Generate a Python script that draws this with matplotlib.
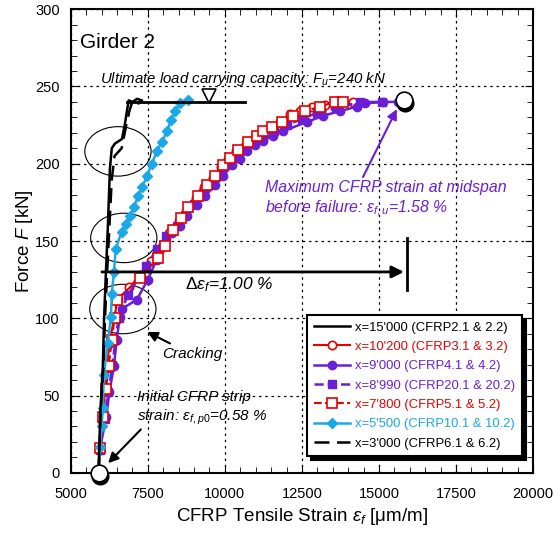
import matplotlib.pyplot as plt
from matplotlib.patches import Ellipse
from matplotlib.ticker import MultipleLocator

plt.rcParams['font.family'] = ['Liberation Sans', 'DejaVu Sans']
plt.rcParams['mathtext.fontset'] = 'custom'
plt.rcParams['mathtext.it'] = 'Liberation Sans:italic'
plt.rcParams['mathtext.rm'] = 'Liberation Sans'

# ---- data (strain in um/m, force in kN) ----
s_15000 = [5900, 5960, 6040, 6080, 6140, 6200, 6270, 6330, 6430, 6660, 6690, 6750, 6820, 6880, 7000, 7150, 7300]
f_15000 = [0, 40, 69, 100, 130, 158, 197, 210, 213, 216, 219, 225, 234, 241, 240, 242, 241]

s_10200 = [5900, 5950, 6020, 6100, 6170, 6260, 6400, 6530, 6900, 7250, 7600, 7900, 8200, 8500, 8780,
           9050, 9330, 9600, 9870, 10100, 10360, 10680, 10980, 11200, 11480, 11800, 12110, 12440, 12830,
           13250, 13700, 14160]
f_10200 = [0, 15, 34, 52, 68, 84, 100, 112, 120, 128, 137, 145, 155, 163, 171,
           178, 185, 191, 198, 203, 208, 213, 217, 220, 223, 227, 232, 234, 237,
           238, 239, 240]

s_9000 = [5900, 5950, 6150, 6250, 6400, 6490, 6590, 6650, 7140, 7500, 7790, 7990, 8300, 8540, 8770,
          9090, 9350, 9680, 9940, 10230, 10490, 10710, 10970, 11230, 11560, 11880, 12660, 13180,
          13730, 14290, 14550, 15130, 15620, 15800]
f_9000 = [0, 16, 36, 52, 69, 86, 101, 106, 112, 125, 138, 148, 155, 160, 166,
          173, 179, 186, 192, 199, 203, 208, 212, 215, 218, 221, 227, 231,
          234, 237, 239, 240, 240, 241]

s_8990 = [5900, 5950, 6100, 6220, 6350, 6450, 6550, 6850, 7450, 7800, 8100, 8450, 8700, 9000,
          9300, 9600, 9880, 10150, 10420, 10700, 10950, 11250, 11600, 12000, 12500, 13000,
          13600, 14380, 15100]
f_8990 = [0, 15, 35, 52, 70, 86, 100, 115, 134, 145, 153, 160, 167, 174,
          181, 188, 194, 200, 205, 210, 214, 217, 221, 225, 229, 233,
          236, 240, 240]

s_7800 = [5900, 5940, 6040, 6140, 6230, 6330, 6420, 6490, 7240, 7820, 8050, 8310, 8570, 8800,
          9120, 9420, 9680, 9930, 10160, 10420, 10750, 11040, 11230, 11530, 11850, 12210,
          12600, 13080, 13570, 13830]
f_7800 = [0, 16, 36, 54, 69, 86, 100, 112, 126, 139, 147, 157, 165, 172,
          179, 186, 192, 199, 204, 209, 214, 218, 221, 224, 227, 231,
          234, 237, 240, 240]

s_5500 = [5900, 5950, 6000, 6040, 6070, 6200, 6300, 6330, 6400, 6460, 6650, 6780, 6920, 7050, 7180,
          7320, 7470, 7630, 7790, 7950, 8120, 8250, 8380, 8540, 8800]
f_5500 = [0, 17, 30, 42, 63, 84, 101, 116, 130, 145, 156, 161, 166, 172, 179,
          185, 192, 200, 208, 214, 221, 228, 234, 239, 241]

s_3000 = [5900, 5970, 6060, 6110, 6180, 6250, 6330, 6420, 6650, 6720, 6800, 6900, 7010, 7200, 7340]
f_3000 = [0, 40, 69, 100, 130, 158, 190, 205, 210, 217, 225, 234, 241, 239, 241]

series_labels = ["x=15'000 (CFRP2.1 & 2.2)", "x=10'200 (CFRP3.1 & 3.2)", "x=9'000 (CFRP4.1 & 4.2)",
                 "x=8'990 (CFRP20.1 & 20.2)", "x=7'800 (CFRP5.1 & 5.2)", "x=5'500 (CFRP10.1 & 10.2)",
                 "x=3'000 (CFRP6.1 & 6.2)"]

red = '#e60000'
purple = '#6a1fd6'
cyan = '#1aa9e6'

fig = plt.figure(figsize=(5.53, 5.41), dpi=100)
ax = fig.add_axes([0.128, 0.126, 0.836, 0.857])

ax.plot(s_15000, f_15000, '-', color='black', lw=1.8, label=series_labels[0], zorder=4)
ax.plot(s_10200, f_10200, '-', color=red, lw=1.5, marker='o', ms=6, mfc='white', mec=red, mew=1.2,
        label=series_labels[1], zorder=3)
ax.plot(s_9000, f_9000, '-', color=purple, lw=1.8, marker='o', ms=6, mfc=purple, mec=purple,
        label=series_labels[2], zorder=3)
ax.plot(s_8990, f_8990, '--', color=purple, lw=1.8, marker='s', ms=6, mfc=purple, mec=purple,
        label=series_labels[3], zorder=3)
ax.plot(s_7800, f_7800, '--', color=red, lw=1.5, marker='s', ms=7, mfc='white', mec=red, mew=1.2,
        label=series_labels[4], zorder=3)
ax.plot(s_5500, f_5500, '-', color=cyan, lw=1.8, marker='D', ms=5, mfc=cyan, mec=cyan,
        label=series_labels[5], zorder=3)
ax.plot(s_3000, f_3000, '--', color='black', lw=1.8, dashes=(6, 3), label=series_labels[6], zorder=4)

# start / failure points (big open circles with a shadow)
for sx, fy in [(s_9000[0], f_9000[0]), (s_9000[-1], f_9000[-1])]:
    ax.plot(sx + 60, fy - 2, 'o', ms=12, color='black', zorder=5, clip_on=False)
    ax.plot(sx, fy, 'o', ms=12, mfc='white', mec='black', mew=1.2, zorder=6, clip_on=False)

# ultimate load line with triangle
ax.plot([6820, 10650], [240, 240], color='black', lw=2, zorder=4)
ax.plot([9500], [244], marker='v', ms=10, mfc='white', mec='black', mew=1.2, zorder=5)
ax.text(5950, 252, 'Ultimate load carrying capacity: $F_u$=240 kN', fontsize=10.8, style='italic')

# ellipses around cracking / stiffness changes
for cx, cy in [(6530, 208), (6720, 152), (6690, 106)]:
    ax.add_patch(Ellipse((cx, cy), 2150, 32, fill=False, lw=0.8, color='black', zorder=2))

# delta strain arrow
ax.annotate('', xy=(5920, 130), xytext=(15900, 130),
            arrowprops=dict(arrowstyle='<|-', color='black', lw=2, mutation_scale=18), zorder=5)
ax.plot([15900, 15900], [118, 152], color='black', lw=2)
ax.text(8700, 119, r'$\Delta\varepsilon_f$=1.00 %', fontsize=12.5, style='italic')

ax.annotate('Cracking', xy=(7400, 92), xytext=(7950, 74), fontsize=11, style='italic',
            arrowprops=dict(arrowstyle='-|>', color='black', lw=1.5, mutation_scale=15))

ax.annotate('Initial CFRP strip\nstrain: $\\varepsilon_{f,p0}$=0.58 %', xy=(6150, 5), xytext=(7150, 34),
            fontsize=11, style='italic', linespacing=1.3,
            arrowprops=dict(arrowstyle='-|>', color='black', lw=1.5, mutation_scale=15,
                            shrinkA=0, relpos=(0.05, 0.0)))

ax.annotate('Maximum CFRP strain at midspan\nbefore failure: $\\varepsilon_{f,u}$=1.58 %',
            xy=(15620, 237), xytext=(11300, 168), fontsize=11.4, style='italic', color=purple,
            linespacing=1.3,
            arrowprops=dict(arrowstyle='-|>', color=purple, lw=1.5, mutation_scale=15,
                            shrinkA=0, relpos=(0.40, 1.0)))

ax.text(5300, 275, 'Girder 2', fontsize=15)

ax.set_xlim(5000, 20000)
ax.set_ylim(0, 300)
ax.xaxis.set_major_locator(MultipleLocator(2500))
ax.xaxis.set_minor_locator(MultipleLocator(500))
ax.yaxis.set_major_locator(MultipleLocator(50))
ax.yaxis.set_minor_locator(MultipleLocator(10))
ax.tick_params(which='both', direction='in', top=True, right=True, labelsize=10.5)
ax.tick_params(which='major', length=6)
ax.tick_params(which='minor', length=4)
ax.tick_params(axis='x', pad=10)
ax.tick_params(axis='y', pad=8)
ax.grid(True, which='major', linestyle=(0, (2, 3)), color='black', lw=0.9)
for sp in ax.spines.values():
    sp.set_linewidth(1.5)

ax.set_xlabel('CFRP Tensile Strain $\\varepsilon_f$ [\u03bcm/m]', fontsize=13.5)
ax.set_ylabel(r'Force $F$ [kN]', fontsize=13.5, labelpad=0)

leg = ax.legend(loc='lower right', bbox_to_anchor=(0.99, 0.022), fontsize=9.4,
                shadow={'color': 'black', 'alpha': 1.0, 'ox': 3, 'oy': -3},
                fancybox=False, framealpha=1, edgecolor='black', handlelength=2.8,
                borderpad=0.5, labelspacing=0.55, handletextpad=0.4)
leg.get_frame().set_linewidth(1.5)
for txt, line in zip(leg.get_texts(), leg.get_lines()):
    txt.set_color(line.get_color())

fig.savefig('out.png', dpi=100)
